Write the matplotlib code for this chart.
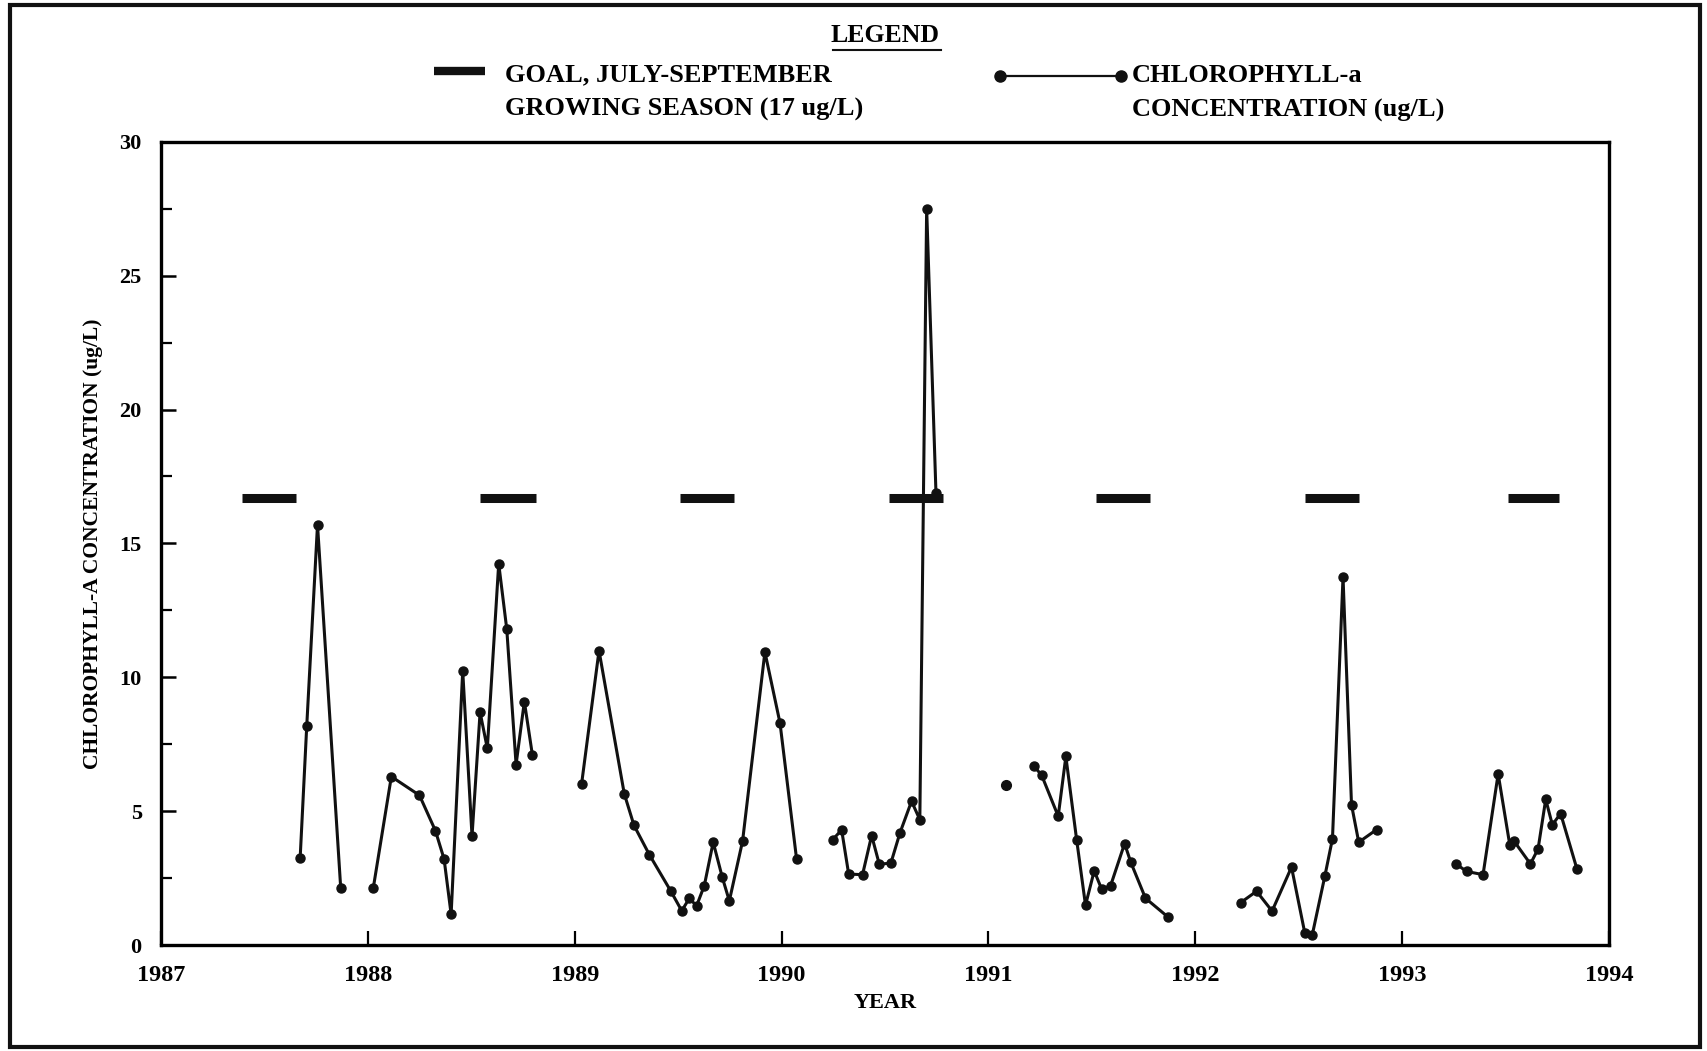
import numpy as np
import matplotlib
matplotlib.use("Agg")
import matplotlib.pyplot as plt
from matplotlib.lines import Line2D
from matplotlib.patches import Rectangle

plt.rcParams['font.family'] = ['Liberation Serif', 'DejaVu Serif']
plt.rcParams['font.weight'] = 'bold'
plt.rcParams['axes.labelweight'] = 'bold'

# chlorophyll-a sampling runs (decimal year, ug/L)
x87 = [1987.672, 1987.704, 1987.756, 1987.868]
y87 = [3.25, 8.2, 15.7, 2.16]

x88 = [1988.026, 1988.113, 1988.249, 1988.326, 1988.368, 1988.402, 1988.458,
       1988.503, 1988.542, 1988.577, 1988.632, 1988.671, 1988.716, 1988.756, 1988.795]
y88 = [2.16, 6.3, 5.6, 4.28, 3.22, 1.16, 10.25, 4.08, 8.7, 7.35, 14.25, 11.8, 6.75, 9.1, 7.1]

x89 = [1989.033, 1989.117, 1989.239, 1989.286, 1989.360, 1989.463, 1989.517, 1989.553,
       1989.589, 1989.626, 1989.669, 1989.713, 1989.747, 1989.811, 1989.919, 1989.992, 1990.072]
y89 = [6.04, 11.0, 5.66, 4.48, 3.39, 2.04, 1.29, 1.75, 1.48, 2.23, 3.85, 2.54, 1.66, 3.89,
       10.95, 8.3, 3.23]

x90 = [1990.246, 1990.290, 1990.324, 1990.391, 1990.435, 1990.472, 1990.528, 1990.572,
       1990.628, 1990.668, 1990.701, 1990.746]
y90 = [3.94, 4.31, 2.66, 2.64, 4.1, 3.03, 3.07, 4.2, 5.38, 4.69, 27.5, 16.9]

x91_single = [1991.083]
y91_single = [6.0]

x91 = [1991.219, 1991.257, 1991.337, 1991.374, 1991.426, 1991.469, 1991.511, 1991.547,
       1991.590, 1991.658, 1991.688, 1991.759, 1991.869]
y91 = [6.7, 6.35, 4.82, 7.05, 3.95, 1.5, 2.78, 2.1, 2.22, 3.8, 3.1, 1.76, 1.05]

x92 = [1992.220, 1992.296, 1992.371, 1992.465, 1992.529, 1992.565, 1992.626, 1992.663,
       1992.714, 1992.755, 1992.790, 1992.876]
y92 = [1.6, 2.02, 1.28, 2.92, 0.47, 0.38, 2.58, 3.98, 13.75, 5.25, 3.85, 4.32]

x93 = [1993.259, 1993.311, 1993.391, 1993.464, 1993.520, 1993.540, 1993.620, 1993.657,
       1993.694, 1993.726, 1993.766, 1993.845]
y93 = [3.05, 2.76, 2.64, 6.4, 3.76, 3.9, 3.04, 3.6, 5.45, 4.5, 4.92, 2.85]

# July-September goal bars
goal_start = [1987.39, 1988.54, 1989.51, 1990.52, 1991.52, 1992.53, 1993.51]
goal_end = [1987.65, 1988.81, 1989.77, 1990.78, 1991.78, 1992.79, 1993.76]
goal_value = 16.7

year_ticks = [1987, 1988, 1989, 1990, 1991, 1992, 1993, 1994]

fig = plt.figure(figsize=(17.07, 10.51), dpi=100)
ax = fig.add_axes([0.0944, 0.1005, 0.8482, 0.7648])

for gs, ge in zip(goal_start, goal_end):
    ax.plot([gs, ge], [goal_value, goal_value], color='#111111', lw=6.5,
            solid_capstyle='butt', zorder=2)

runs = [(x87, y87), (x88, y88), (x89, y89), (x90, y90), (x91, y91), (x92, y92), (x93, y93)]
for xs, ys in runs:
    ax.plot(xs, ys, '-o', color='#111111', lw=2.2, ms=6.5, zorder=3)
ax.plot(x91_single, y91_single, 'o', color='#111111', ms=7, zorder=3)

ax.set_xlim(1987, 1994)
ax.set_ylim(0, 30)
ax.set_xticks(year_ticks)
ax.set_xticklabels([str(y) for y in year_ticks])
ax.set_yticks(np.arange(0, 31, 5))
ax.set_yticks(np.arange(2.5, 30, 5), minor=True)
ax.tick_params(axis='x', direction='in', length=10, width=1.6, pad=14, labelsize=17.5)
ax.tick_params(axis='y', which='major', direction='in', length=11, width=1.8, pad=14, labelsize=16)
ax.tick_params(axis='y', which='minor', direction='in', length=8, width=1.6)
for sp in ax.spines.values():
    sp.set_linewidth(2.4)

ax.set_xlabel('YEAR', fontsize=16, labelpad=5)
ax.set_ylabel('CHLOROPHYLL-A CONCENTRATION (ug/L)', fontsize=15.5, labelpad=12)

# outer frame of the scanned page
fig.patches.append(Rectangle((0.006, 0.004), 0.99, 0.991, transform=fig.transFigure,
                             fill=False, lw=3, edgecolor='#111111'))

# legend block
fig.text(0.5185, 0.966, 'LEGEND', ha='center', va='center', fontsize=18.5)
fig.lines.append(Line2D([0.488, 0.551], [0.952, 0.952], transform=fig.transFigure,
                        color='#111111', lw=1.5))

fig.lines.append(Line2D([0.254, 0.284], [0.932, 0.932], transform=fig.transFigure,
                        color='#111111', lw=6, solid_capstyle='butt'))
fig.text(0.296, 0.929, 'GOAL, JULY-SEPTEMBER', ha='left', va='center', fontsize=19)
fig.text(0.296, 0.896, 'GROWING SEASON (17 ug/L)', ha='left', va='center', fontsize=19)

fig.lines.append(Line2D([0.586, 0.657], [0.928, 0.928], transform=fig.transFigure,
                        color='#111111', lw=1.6, marker='o', ms=8, markevery=[0, 1]))
fig.text(0.663, 0.928, 'CHLOROPHYLL-a', ha='left', va='center', fontsize=19)
fig.text(0.663, 0.895, 'CONCENTRATION (ug/L)', ha='left', va='center', fontsize=19)

fig.savefig('out.png', dpi=100)
